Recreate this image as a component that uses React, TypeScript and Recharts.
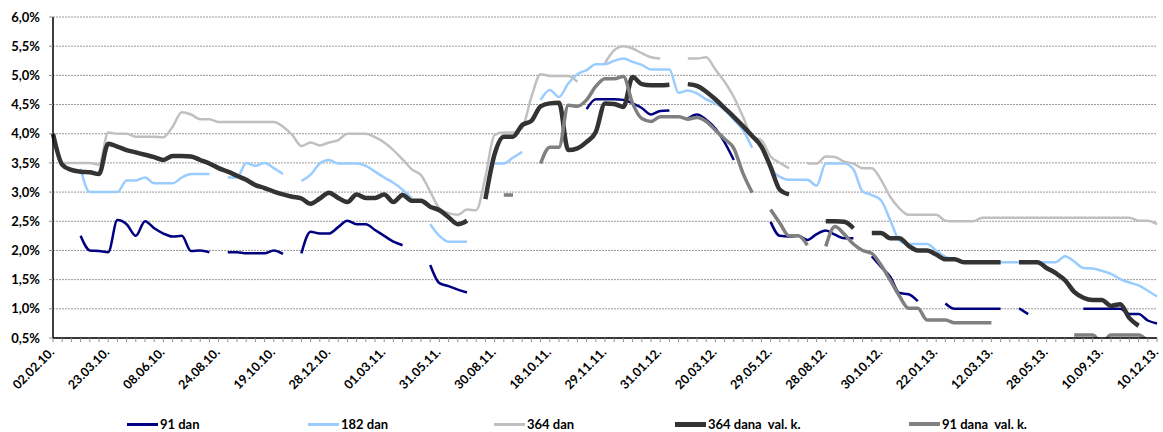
import { LineChart, Line, XAxis, YAxis, CartesianGrid } from "recharts";

const _ = null;

// auction dates shown on the axis (every 6th auction)
const tickLabels = [
  "02.02.10.", "23.03.10.", "08.06.10.", "24.08.10.", "19.10.10.", "28.12.10.",
  "01.03.11.", "31.05.11.", "30.08.11.", "18.10.11.", "29.11.11.", "31.01.12.",
  "20.03.12.", "29.05.12.", "28.08.12.", "30.10.12.", "22.01.13.", "12.03.13.",
  "28.05.13.", "10.09.13.", "10.12.13.",
];

// yields in %, one value per auction (121 auctions), null = no auction
const dan91 = [
  _, _, _, 2.25, 2.0, 1.99, 1.97, 2.52, 2.45, 2.25,
  2.5, 2.38, 2.29, 2.24, 2.25, 1.99, 2.0, 1.97, _, 1.97,
  1.97, 1.95, 1.95, 1.95, 2.0, 1.94, _, 1.95, 2.32, 2.29,
  2.29, 2.4, 2.51, 2.45, 2.45, 2.35, 2.25, 2.15, 2.09, _,
  _, 1.75, 1.44, 1.39, 1.33, 1.28, _, _, _, _,
  _, _, _, _, _, _, _, _, 4.42, 4.59,
  4.59, 4.59, 4.58, 4.52, 4.44, 4.33, 4.39, 4.4, _, 4.26,
  4.33, 4.24, 4.09, 3.85, 3.55, _, _, _, 2.49, 2.25,
  2.24, 2.25, 2.18, 2.28, 2.34, 2.27, 2.21, 2.21, _, 1.9,
  1.72, 1.55, 1.27, 1.25, 1.13, _, _, 1.09, 1.0, 1.0,
  1.0, 1.0, 1.0, 1.0, _, 1.01, 0.91, _, _, _,
  _, _, 1.0, 1.0, 1.0, 1.0, 1.0, 0.91, 0.91, 0.8,
  0.75,
];

const dan182 = [
  _, _, _, 3.4, 3.0, 3.0, 3.0, 3.0, 3.2, 3.2,
  3.25, 3.15, 3.15, 3.15, 3.25, 3.31, 3.31, 3.31, _, 3.25,
  3.25, 3.5, 3.45, 3.5, 3.41, 3.31, _, 3.19, 3.3, 3.49,
  3.55, 3.49, 3.49, 3.49, 3.45, 3.35, 3.25, 3.16, 3.04, 2.89,
  _, 2.45, 2.25, 2.15, 2.15, 2.15, _, _, 3.49, 3.49,
  3.59, 3.69, _, 4.58, 4.75, 4.63, 4.86, 5.02, 5.09, 5.19,
  5.19, 5.25, 5.29, 5.23, 5.18, 5.1, 5.1, 5.1, 4.7, 4.74,
  4.69, 4.59, 4.52, 4.41, 4.24, 4.06, 3.76, _, 3.38, 3.26,
  3.21, 3.21, 3.21, 3.11, 3.49, 3.49, 3.49, 3.39, 3.01, 2.95,
  2.86, 2.52, 2.17, 2.11, 2.11, 2.11, 2.0, 1.89, 1.84, 1.8,
  1.8, 1.8, 1.8, 1.8, 1.8, 1.8, 1.8, 1.8, 1.8, 1.8,
  1.9, 1.81, 1.7, 1.69, 1.65, 1.6, 1.51, 1.45, 1.4, 1.31,
  1.21,
];

const dan364 = [
  _, 3.5, 3.5, 3.5, 3.5, 3.47, 4.02, 4.0, 4.0, 3.95,
  3.95, 3.95, 3.94, 4.12, 4.37, 4.33, 4.25, 4.25, 4.2, 4.2,
  4.2, 4.2, 4.2, 4.2, 4.2, 4.12, 3.98, 3.79, 3.85, 3.8,
  3.85, 3.89, 4.0, 4.0, 4.0, 3.94, 3.85, 3.72, 3.56, 3.39,
  3.29, 3.01, 2.72, 2.64, 2.61, 2.7, 2.69, 3.26, 3.98, 4.02,
  4.02, 4.1, 4.63, 5.02, 4.99, 4.99, 4.99, 4.89, _, _,
  5.21, 5.43, 5.5, 5.46, 5.38, 5.31, 5.29, _, _, 5.29,
  5.29, 5.31, 5.1, 4.89, 4.63, 4.29, 3.95, 3.89, 3.61, 3.5,
  3.41, _, 3.49, 3.49, 3.61, 3.6, 3.52, 3.49, 3.41, 3.41,
  3.21, 2.92, 2.72, 2.61, 2.61, 2.61, 2.61, 2.51, 2.5, 2.5,
  2.5, 2.56, 2.56, 2.56, 2.56, 2.56, 2.56, 2.56, 2.56, 2.56,
  2.56, 2.56, 2.56, 2.56, 2.56, 2.56, 2.56, 2.56, 2.51, 2.51,
  2.45,
];

const dana364ValK = [
  4.0, 3.47, 3.38, 3.35, 3.34, 3.31, 3.83, 3.78, 3.72, 3.68,
  3.64, 3.6, 3.55, 3.62, 3.62, 3.61, 3.55, 3.49, 3.41, 3.35,
  3.28, 3.21, 3.12, 3.07, 3.01, 2.96, 2.92, 2.89, 2.8, 2.89,
  2.99, 2.9, 2.83, 2.96, 2.9, 2.9, 2.96, 2.83, 2.95, 2.85,
  2.85, 2.75, 2.69, 2.57, 2.45, 2.51, _, 2.88, 3.65, 3.95,
  3.95, 4.15, 4.22, 4.47, 4.52, 4.53, 3.72, 3.75, 3.86, 4.03,
  4.52, 4.51, 4.46, 4.97, 4.85, 4.83, 4.83, 4.84, _, 4.85,
  4.82, 4.72, 4.59, 4.44, 4.29, 4.13, 3.96, 3.78, 3.43, 3.04,
  2.96, _, _, _, 2.5, 2.5, 2.49, 2.38, _, 2.3,
  2.3, 2.21, 2.21, 2.08, 2.0, 2.0, 1.93, 1.85, 1.85, 1.8,
  1.8, 1.8, 1.8, 1.8, _, 1.8, 1.8, 1.8, 1.7, 1.61,
  1.49, 1.29, 1.19, 1.15, 1.15, 1.05, 1.08, 0.84, 0.71, _,
  _,
];

const dana91ValK = [
  _, _, _, _, _, _, _, _, _, _,
  _, _, _, _, _, _, _, _, _, _,
  _, _, _, _, _, _, _, _, _, _,
  _, _, _, _, _, _, _, _, _, _,
  _, _, _, _, _, _, _, _, _, 2.95,
  2.95, _, _, 3.49, 3.77, 3.77, 4.49, 4.47, 4.58, 4.81,
  4.94, 4.94, 4.98, 4.52, 4.26, 4.21, 4.29, 4.29, 4.29, 4.25,
  4.28, 4.21, 4.06, 3.91, 3.75, 3.32, 2.99, _, 2.7, 2.47,
  2.25, 2.25, 2.09, _, 2.07, 2.41, 2.28, 2.11, 2.0, 1.95,
  1.75, 1.49, 1.22, 1.01, 1.01, 0.81, 0.81, 0.81, 0.76, 0.76,
  0.76, 0.76, 0.76, _, _, _, _, _, _, _,
  _, 0.55, 0.55, 0.55, 0.42, 0.55, 0.55, 0.55, 0.55, 0.45,
  _,
];

const yTicks = [0.5, 1, 1.5, 2, 2.5, 3, 3.5, 4, 4.5, 5, 5.5, 6];

const SERIES = [
  { key: "dan91", name: "91 dan", color: "#000080", width: 2.5 },
  { key: "dan182", name: "182 dan", color: "#99CCFF", width: 2.5 },
  { key: "dan364", name: "364 dan", color: "#C0C0C0", width: 2.5 },
  { key: "dana364ValK", name: "364 dana  val. k.", color: "#333333", width: 4.5 },
  { key: "dana91ValK", name: "91 dana  val. k.", color: "#808080", width: 3.5 },
];

const LEGEND_LEFT = [127, 308, 494, 675, 909];

const data = dan91.map((_v, i) => ({
  i,
  dan91: dan91[i],
  dan182: dan182[i],
  dan364: dan364[i],
  dana364ValK: dana364ValK[i],
  dana91ValK: dana91ValK[i],
}));

const allTicks = data.map((d) => d.i);

const FONT = "Lato, 'Liberation Sans', Arial, sans-serif";

function DateTick({ x, y, payload }: { x?: number; y?: number; payload?: { value: number } }) {
  const i = payload?.value ?? 0;
  if (i % 6 !== 0) return <g />;
  const ax = (x ?? 0) + 2;
  const ay = (y ?? 0) + 9;
  return (
    <text
      x={ax}
      y={ay}
      transform={`rotate(-45 ${ax} ${ay})`}
      textAnchor="end"
      fontSize={12.5}
      fontWeight={700}
      fontFamily={FONT}
      fill="#000"
    >
      {tickLabels[i / 6]}
    </text>
  );
}

export default function App() {
  return (
    <div style={{ position: "relative", width: 1163, height: 432, fontFamily: FONT }}>
      <style>{`body{margin:0;}`}</style>
      <LineChart
        width={1163}
        height={432}
        data={data}
        margin={{ top: 17, right: 6, bottom: 0, left: 0 }}
      >
        <CartesianGrid vertical={false} stroke="#9a9a9a" strokeDasharray="2 1" />
        <XAxis
          dataKey="i"
          type="number"
          domain={[0, 120]}
          ticks={allTicks}
          interval={0}
          height={94}
          tickSize={4}
          axisLine={{ stroke: "#000", strokeWidth: 1.5 }}
          tickLine={{ stroke: "#8c8c8c" }}
          tick={<DateTick />}
        />
        <YAxis
          type="number"
          domain={[0.5, 6]}
          ticks={yTicks}
          allowDataOverflow
          width={53}
          tickSize={4}
          tickMargin={9}
          axisLine={{ stroke: "#000", strokeWidth: 1.5 }}
          tickLine={{ stroke: "#8c8c8c" }}
          tick={{ fontSize: 13, fontWeight: 700, fill: "#000", fontFamily: FONT }}
          tickFormatter={(v: number) => v.toFixed(1).replace(".", ",") + "%"}
        />
        {SERIES.map((s) => (
          <Line
            key={s.key}
            type="monotone"
            dataKey={s.key}
            name={s.name}
            stroke={s.color}
            strokeWidth={s.width}
            dot={false}
            activeDot={false}
            isAnimationActive={false}
          />
        ))}
      </LineChart>
      {SERIES.map((s, k) => (
        <div
          key={s.key}
          style={{
            position: "absolute",
            left: LEGEND_LEFT[k],
            top: 416,
            display: "flex",
            alignItems: "center",
            fontSize: 13,
            fontWeight: 700,
            whiteSpace: "pre",
            color: "#000",
          }}
        >
          <div style={{ width: 31, height: Math.round(s.width), background: s.color, marginRight: 2 }} />
          {s.name}
        </div>
      ))}
    </div>
  );
}
